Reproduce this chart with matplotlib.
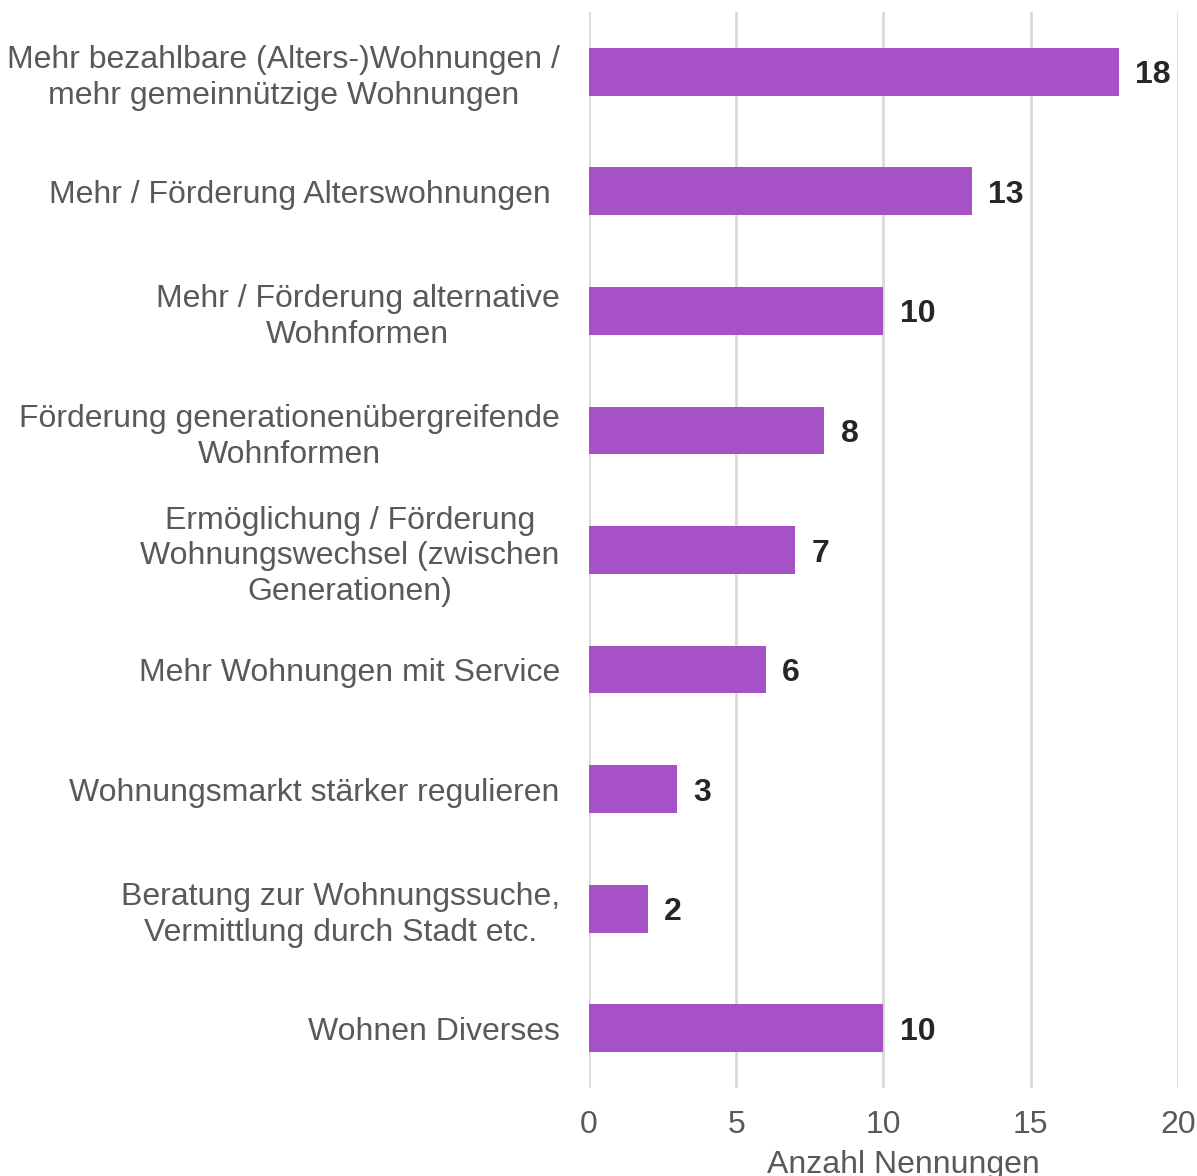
import matplotlib.pyplot as plt

plt.rcParams['font.family'] = ['Liberation Sans', 'DejaVu Sans']

categories = [
    "Mehr bezahlbare (Alters-)Wohnungen /\nmehr gemeinnützige Wohnungen",
    "Mehr / Förderung Alterswohnungen ",
    "Mehr / Förderung alternative\nWohnformen",
    "Förderung generationenübergreifende\nWohnformen",
    "Ermöglichung / Förderung\nWohnungswechsel (zwischen\nGenerationen)",
    "Mehr Wohnungen mit Service",
    "Wohnungsmarkt stärker regulieren",
    "Beratung zur Wohnungssuche,\nVermittlung durch Stadt etc.",
    "Wohnen Diverses",
]
values = [18, 13, 10, 8, 7, 6, 3, 2, 10]
xticks = [0, 5, 10, 15, 20]

bar_color = '#A652C6'
text_gray = '#595959'

fig = plt.figure(figsize=(11.97, 11.76), dpi=100)
ax = fig.add_axes([0.492, 0.0748, 0.492, 0.915])

ypos = list(range(len(categories)))
ax.barh(ypos, values, height=0.4, color=bar_color, zorder=2)
ax.set_ylim(len(categories) - 0.5, -0.5)
ax.set_xlim(0, 20)

ax.set_xticks(xticks)
ax.set_xticklabels([str(t) for t in xticks], fontsize=23, color=text_gray)
ax.set_yticks(ypos)
ax.set_yticklabels(categories, fontsize=23, color=text_gray,
                   ha='right', multialignment='center', linespacing=1.25)
ax.tick_params(axis='both', length=0)
ax.tick_params(axis='y', pad=21)
ax.tick_params(axis='x', pad=16)

ax.grid(axis='x', color='#D9D9D9', linewidth=2, zorder=0)
ax.set_axisbelow(True)
for s in ax.spines.values():
    s.set_visible(False)

for y, v in zip(ypos, values):
    ax.text(v + 0.55, y + 0.03, str(v), va='center', ha='left', fontsize=23,
            fontweight='bold', color='#262626', zorder=3,
            bbox=dict(facecolor='white', edgecolor='none', pad=2))

ax.set_xlabel("Anzahl Nennungen", fontsize=23, color=text_gray, labelpad=7, x=0.534)

fig.savefig('out.png', dpi=100)
